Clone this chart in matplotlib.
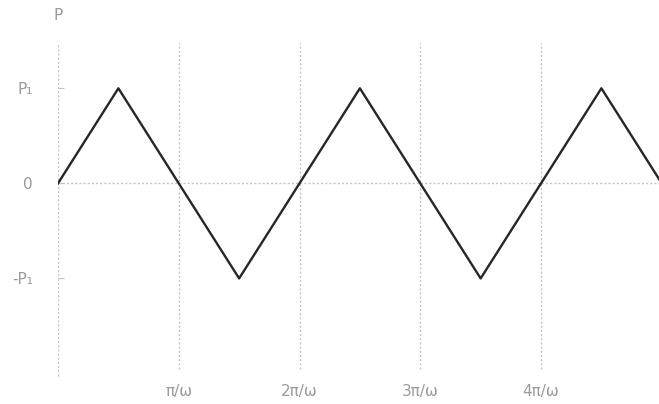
import matplotlib
matplotlib.use("Agg")
import matplotlib.pyplot as plt

# triangle wave vertices, time in units of pi/omega, pressure in units of P1
t_vertices = [0, 0.5, 1.5, 2.5, 3.5, 4.5, 5.0]
p_vertices = [0, 1, -1, 1, -1, 1, 0]

x_ticks = [1, 2, 3, 4]
x_labels = ["π/ω", "2π/ω", "3π/ω", "4π/ω"]
y_ticks = [-1, 0, 1]
y_labels = ["-P₁", "0", "P₁"]

TEXT = "#9a9a9a"
GRID = "#c4c4c4"

fig = plt.figure(figsize=(6.59, 4.04), dpi=100)
ax = fig.add_axes([58 / 659, 1 - 383 / 404, 601 / 659, 347 / 404])
ax.set_xlim(0, 4.977)
ax.set_ylim(-2.1, 1.55)

for s in ax.spines.values():
    s.set_visible(False)

# dotted guide lines
ax.axhline(0, color=GRID, lw=1.0, ls=(0, (1.5, 1.5)), zorder=1)
ax.axvline(0, ymin=0.02, ymax=0.98, color=GRID, lw=1.0, ls=(0, (1.5, 1.5)), zorder=1)
for xt in x_ticks:
    ax.axvline(xt, ymin=0.04, ymax=0.98, color=GRID, lw=1.0, ls=(0, (1.5, 1.5)), zorder=1)

ax.plot(t_vertices, p_vertices, color="#262626", lw=1.7, zorder=3)

ax.set_xticks(x_ticks)
ax.set_xticklabels(x_labels, color=TEXT, fontsize=11)
ax.set_yticks(y_ticks)
ax.set_yticklabels(y_labels, color=TEXT, fontsize=11)
ax.tick_params(axis="x", length=0, pad=1)
ax.tick_params(axis="y", length=4, direction="in", color=GRID, pad=18)

ax.text(0, 1.77, "P", color=TEXT, fontsize=11, ha="center", va="center",
        clip_on=False)

fig.savefig("out.png", dpi=100)
